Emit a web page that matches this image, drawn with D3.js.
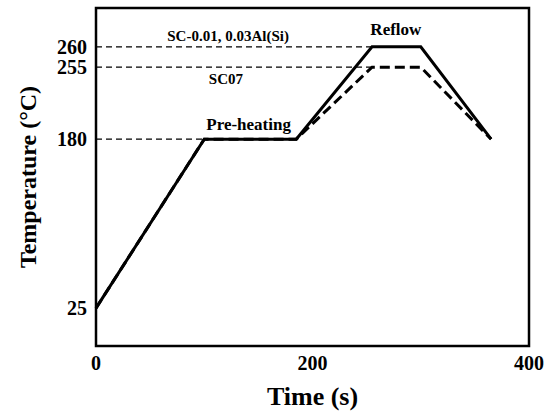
<!DOCTYPE html>
<html>
<head>
<meta charset="utf-8">
<script src="https://cdn.jsdelivr.net/npm/d3@7"></script>
<style>
  body { margin: 0; background: #fff; }
  text { font-family: "Liberation Serif", "Times New Roman", serif; font-weight: bold; fill: #000; }
</style>
</head>
<body>
<svg id="chart"></svg>
<script>
'use strict';

// reflow profile
const time = [0, 100, 185, 255, 300, 365];
const tempSC = [25, 180, 180, 260, 260, 180];     // SC-0.01, 0.03Al(Si)
const tempSC07 = [25, 180, 180, 255, 255, 180];   // SC07

const xTicks = [0, 200, 400];
const yTicks = [25, 180, 255, 260];

// guide lines: [temperature, time where they stop]
const guides = [[260, 255], [255, 255], [180, 100]];

// annotations: [text, time, temperature they sit on]
const labels = [
    ['SC-0.01, 0.03Al(Si)', 122, 260],
    ['SC07', 120, 255],
    ['Pre-heating', 141, 180],
    ['Reflow', 277, 260]
];
// pixel offset and size of each annotation
const labelStyle = [[-6, 15], [17, 15], [-9, 17], [-12, 17]];

const width = 550, height = 417;
const m = {left: 96, right: 21, top: 8, bottom: 71};
const pw = width - m.left - m.right;
const ph = height - m.top - m.bottom;

const svg = d3.select('#chart')
    .attr('width', width)
    .attr('height', height);

const x = d3.scaleLinear()
    .domain([0, 400])
    .range([m.left, m.left + pw]);

// the temperature axis is schematic, so it is piecewise
const y = d3.scaleLinear()
    .domain([25, 180, 255, 260, 270])
    .range([0.888, 0.388, 0.175, 0.115, 0.085].map(f => m.top + ph * f));

// dashed guide lines
svg.selectAll('.guide')
    .data(guides)
    .enter()
    .append('line')
    .attr('x1', m.left)
    .attr('x2', d => x(d[1]))
    .attr('y1', d => y(d[0]))
    .attr('y2', d => y(d[0]))
    .attr('stroke', '#000')
    .attr('stroke-width', 1.4)
    .attr('stroke-dasharray', '6,4');

const line = d3.line()
    .x(d => x(d[0]))
    .y(d => y(d[1]));

svg.append('path')
    .datum(d3.zip(time, tempSC07))
    .attr('d', line)
    .attr('fill', 'none')
    .attr('stroke', '#000')
    .attr('stroke-width', 3)
    .attr('stroke-dasharray', '10,5');

svg.append('path')
    .datum(d3.zip(time, tempSC))
    .attr('d', line)
    .attr('fill', 'none')
    .attr('stroke', '#000')
    .attr('stroke-width', 3);

// frame
svg.append('rect')
    .attr('x', m.left)
    .attr('y', m.top)
    .attr('width', pw)
    .attr('height', ph)
    .attr('fill', 'none')
    .attr('stroke', '#000')
    .attr('stroke-width', 2.5);

// tick labels
svg.selectAll('.xt')
    .data(xTicks)
    .enter()
    .append('text')
    .attr('x', d => x(d))
    .attr('y', m.top + ph + 24)
    .attr('text-anchor', 'middle')
    .style('font-size', '20px')
    .text(d => d);

svg.selectAll('.yt')
    .data(yTicks)
    .enter()
    .append('text')
    .attr('x', m.left - 9)
    .attr('y', d => y(d) + 7)
    .attr('text-anchor', 'end')
    .style('font-size', '20px')
    .text(d => d);

// in-plot labels
svg.selectAll('.lbl')
    .data(labels)
    .enter()
    .append('text')
    .attr('x', d => x(d[1]))
    .attr('y', (d, i) => y(d[2]) + labelStyle[i][0])
    .attr('text-anchor', 'middle')
    .style('font-size', (d, i) => labelStyle[i][1] + 'px')
    .text(d => d[0]);

// axis titles
svg.append('text')
    .attr('x', m.left + pw / 2)
    .attr('y', height - 12)
    .attr('text-anchor', 'middle')
    .style('font-size', '26px')
    .text('Time (s)');

svg.append('text')
    .attr('transform', 'translate(36,' + (m.top + ph / 2) + ') rotate(-90)')
    .attr('text-anchor', 'middle')
    .style('font-size', '24px')
    .text('Temperature (°C)');
</script>
</body>
</html>
